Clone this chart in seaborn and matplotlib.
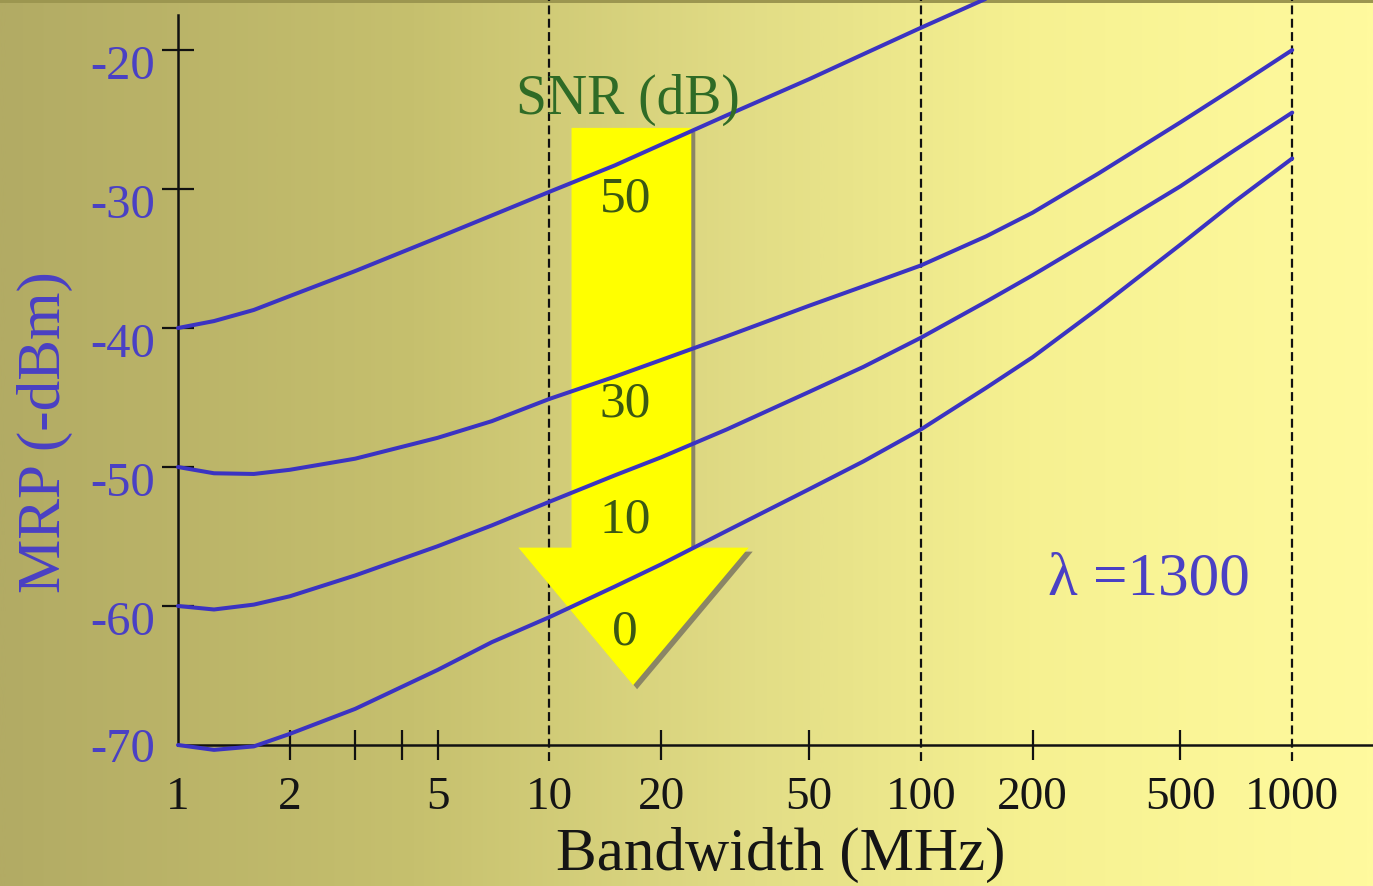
import numpy as np
import pandas as pd
import matplotlib
matplotlib.use("Agg")
import matplotlib.pyplot as plt
import matplotlib.transforms as mtransforms
from matplotlib.patches import Polygon, Rectangle
from matplotlib.colors import LinearSegmentedColormap
from matplotlib.ticker import FixedLocator, NullFormatter
import seaborn as sns

# Minimum received power versus receiver bandwidth, one curve per SNR
bandwidth_mhz = [1, 1.25, 1.6, 2, 3, 5, 7, 10, 15, 20, 30, 50, 70, 100,
                 150, 200, 300, 500, 700, 1000]
mrp_snr_50 = [-40.0, -39.5, -38.7, -37.7, -35.9, -33.5, -31.9, -30.2, -28.3,
              -26.8, -24.7, -22.1, -20.3, -18.4, -16.3, -14.7,
              np.nan, np.nan, np.nan, np.nan]
mrp_snr_30 = [-50.0, -50.45, -50.5, -50.2, -49.4, -47.9, -46.7, -45.1, -43.5,
              -42.3, -40.6, -38.4, -37.0, -35.5, -33.4, -31.7, -28.9, -25.2,
              -22.7, -20.0]
mrp_snr_10 = [-60.0, -60.25, -59.9, -59.3, -57.8, -55.7, -54.2, -52.5, -50.6,
              -49.3, -47.3, -44.6, -42.8, -40.7, -38.1, -36.2, -33.4, -29.8,
              -27.2, -24.5]
mrp_snr_0 = [-70.0, -70.35, -70.1, -69.2, -67.4, -64.6, -62.6, -60.8, -58.6,
             -57.0, -54.6, -51.6, -49.6, -47.3, -44.3, -42.1, -38.6, -34.0,
             -30.9, -27.8]
snr_levels = [50, 30, 10, 0]

x_tick_values = [1, 2, 5, 10, 20, 50, 100, 200, 500, 1000]
x_tick_labels = ["1", "2", "5", "10", "20", "50", "100", "200", "500", "1000"]
x_minor_ticks = [3, 4]
y_tick_values = [-20, -30, -40, -50, -60, -70]
y_tick_labels = ["-20", "-30", "-40", "-50", "-60", "-70"]
decade_lines = [10, 100, 1000]

curves = pd.DataFrame({
    "bandwidth": bandwidth_mhz * 4,
    "mrp": mrp_snr_50 + mrp_snr_30 + mrp_snr_10 + mrp_snr_0,
    "snr": np.repeat(snr_levels, len(bandwidth_mhz)),
}).dropna()

sns.set_theme(style="white")
plt.rcParams["font.family"] = ["Liberation Serif", "DejaVu Serif"]

W, H, DPI = 1373, 886, 100
fig = plt.figure(figsize=(W / DPI, H / DPI), dpi=DPI)

# Horizontal olive-to-pale-yellow background
bg = fig.add_axes([0, 0, 1, 1], zorder=-10)
bg_cmap = LinearSegmentedColormap.from_list(
    "slide_bg",
    [(0.0, "#b2ab64"), (0.3, "#c6c06e"), (0.55, "#e2dd86"),
     (0.75, "#f6f191"), (1.0, "#fffa9e")])
bg.imshow(np.linspace(0, 1, 600)[None, :], aspect="auto", cmap=bg_cmap,
          extent=[0, 1, 0, 1])
bg.add_patch(Rectangle((0, 1 - 3 / H), 1, 3 / H, color="#9c9650", lw=0))
bg.set_xlim(0, 1)
bg.set_ylim(0, 1)
bg.axis("off")

ax = fig.add_axes([178 / W, 1 - 745 / H, 1 - 178 / W, 745 / H])
ax.patch.set_alpha(0)

curve_color = "#3b33c2"
blue_text = "#4a40c4"

sns.lineplot(data=curves, x="bandwidth", y="mrp", units="snr",
             estimator=None, color=curve_color, lw=2.9, ax=ax,
             legend=False, zorder=4)
for line in ax.lines:
    line.set_clip_on(False)
    line.set_solid_joinstyle("round")
    line.set_solid_capstyle("round")

ax.set_xscale("log")
ax.set_xlim(1, 1650)
ax.set_ylim(-70, -16.4)

for v in decade_lines:
    ax.axvline(v, ymin=-0.022, ymax=1, color="#111111", lw=1.6,
               ls=(0, (4, 2)), clip_on=False, zorder=1)

# Large SNR arrow with drop shadow
shaft_l, shaft_r, shaft_top = 11.47, 24.1, -25.6
head_y, head_l, head_r = -55.8, 8.25, 34.4
tip = (16.8, -65.7)
arrow_verts = [(shaft_l, shaft_top), (shaft_r, shaft_top), (shaft_r, head_y),
               (head_r, head_y), tip, (head_l, head_y), (shaft_l, head_y)]
shadow_tr = ax.transData + mtransforms.ScaledTranslation(
    4 / DPI, -4 / DPI, fig.dpi_scale_trans)
ax.add_patch(Polygon(arrow_verts, closed=True, facecolor="#8a8566",
                     edgecolor="none", transform=shadow_tr, zorder=2))
ax.add_patch(Polygon(arrow_verts, closed=True, facecolor="#ffff00",
                     edgecolor="none", zorder=3))

ax.text(16.3, -23.6, "SNR (dB)", color="#2f6b26", fontsize=40,
        ha="center", va="center", zorder=6)
label_y = [-30.7, -45.5, -53.8, -61.9]
for snr, yv in zip(snr_levels, label_y):
    ax.text(16.0, yv, str(snr), color="#3b5814", fontsize=37,
            ha="center", va="center", zorder=6)

ax.text(412, -58.1, "\u03bb =1300", color=blue_text, fontsize=44,
        ha="center", va="center", zorder=6)

# Axes, spines and ticks
for side in ("top", "right"):
    ax.spines[side].set_visible(False)
for side in ("left", "bottom"):
    ax.spines[side].set_color("#111111")
    ax.spines[side].set_linewidth(1.8)
ax.spines["left"].set_bounds(-70, -17.5)

ax.set_xticks(x_tick_values)
ax.set_xticklabels(x_tick_labels)
ax.xaxis.set_minor_locator(FixedLocator(x_minor_ticks))
ax.xaxis.set_minor_formatter(NullFormatter())
ax.set_yticks(y_tick_values)
ax.set_yticklabels(y_tick_labels)

ax.tick_params(axis="x", which="both", direction="inout", length=22,
               width=1.6, color="#111111", labelsize=34,
               labelcolor="#151515", pad=12, bottom=True)
ax.tick_params(axis="y", direction="inout", length=23, width=1.6,
               color="#111111", labelsize=35, labelcolor=blue_text, pad=5,
               left=True)

for t in ax.xaxis.get_major_ticks():
    if t.get_loc() in (1, 10, 100, 1000):
        t.tick1line.set_visible(False)

ax.set_xlabel("Bandwidth (MHz)", fontsize=44, color="#151515", va="center")
ax.xaxis.set_label_coords(0.504, -0.148)
ax.set_ylabel("MRP (-dBm)", fontsize=44, color=blue_text, va="center")
ax.yaxis.set_label_coords(-0.111, 0.42)

# Y tick labels sit slightly below their ticks
shift = mtransforms.ScaledTranslation(0, -12 / DPI, fig.dpi_scale_trans)
for t in ax.yaxis.get_major_ticks():
    if t.get_loc() == -70:
        t.tick1line.set_visible(False)
    else:
        t.label1.set_transform(t.label1.get_transform() + shift)

ax.grid(False)
fig.savefig("out.png", dpi=DPI)
